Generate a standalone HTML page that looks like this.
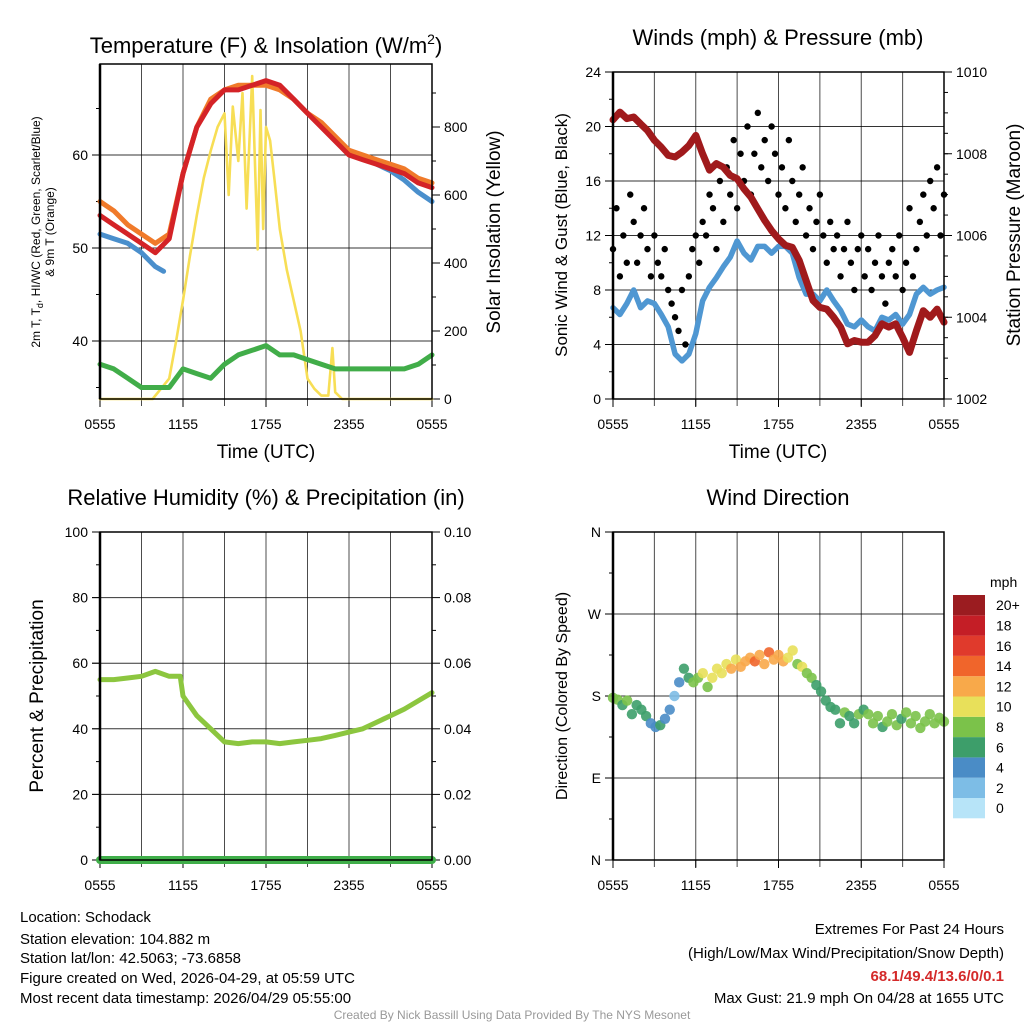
<!DOCTYPE html>
<html><head><meta charset="utf-8">
<style>
html,body{margin:0;padding:0;background:#fff;}
svg{display:block;font-family:"Liberation Sans",Arial,sans-serif;}
</style></head>
<body>
<svg id="fig" width="1024" height="1024" viewBox="0 0 1024 1024" xmlns="http://www.w3.org/2000/svg">
<rect width="1024" height="1024" fill="#fff"/>
<text x="266" y="53" font-size="22" text-anchor="middle">Temperature (F) &amp; Insolation (W/m<tspan dy="-9" font-size="14">2</tspan><tspan dy="9">)</tspan></text>
<text x="778" y="45" font-size="22" text-anchor="middle">Winds (mph) &amp; Pressure (mb)</text>
<text x="266" y="505" font-size="22" text-anchor="middle">Relative Humidity (%) &amp; Precipitation (in)</text>
<text x="778" y="505" font-size="22" text-anchor="middle">Wind Direction</text>
<text x="266" y="458" font-size="19" text-anchor="middle">Time (UTC)</text>
<text x="778" y="458" font-size="19" text-anchor="middle">Time (UTC)</text>
<g transform="translate(40,232) rotate(-90)">
<text x="0" y="0" font-size="12" text-anchor="middle">2m T, T<tspan dy="3" font-size="9">d</tspan><tspan dy="-3">, HI/WC (Red, Green, Scarlet/Blue)</tspan></text>
<text x="0" y="14" font-size="12" text-anchor="middle">&amp; 9m T (Orange)</text>
</g>
<text transform="translate(500,232) rotate(-90)" font-size="19" text-anchor="middle">Solar Insolation (Yellow)</text>
<text transform="translate(567,235) rotate(-90)" font-size="17" text-anchor="middle">Sonic Wind &amp; Gust (Blue, Black)</text>
<text transform="translate(1020,235) rotate(-90)" font-size="19" text-anchor="middle">Station Pressure (Maroon)</text>
<text transform="translate(43,696) rotate(-90)" font-size="19" text-anchor="middle">Percent &amp; Precipitation</text>
<text transform="translate(567,696) rotate(-90)" font-size="16" text-anchor="middle">Direction (Colored By Speed)</text>
<g font-size="15">
<text x="20" y="922">Location: Schodack</text>
<text x="20" y="944">Station elevation: 104.882 m</text>
<text x="20" y="963">Station lat/lon: 42.5063; -73.6858</text>
<text x="20" y="983">Figure created on Wed, 2026-04-29, at 05:59 UTC</text>
<text x="20" y="1003">Most recent data timestamp: 2026/04/29 05:55:00</text>
</g>
<g font-size="15" text-anchor="end">
<text x="1004" y="934">Extremes For Past 24 Hours</text>
<text x="1004" y="958">(High/Low/Max Wind/Precipitation/Snow Depth)</text>
<text x="1004" y="981" fill="#d42a2a" font-weight="bold">68.1/49.4/13.6/0/0.1</text>
<text x="1004" y="1003">Max Gust: 21.9 mph On 04/28 at 1655 UTC</text>
</g>
<text x="512" y="1019" font-size="12" fill="#999" text-anchor="middle">Created By Nick Bassill Using Data Provided By The NYS Mesonet</text>
<g id="plots"></g>
</svg>
<script>
// ---- data ----
const xTickLabels = ["0555","1155","1755","2355","0555"];
const tempHours = [0,1,2,3,4,5,6,7,8,9,10,11,12,13,14,15,16,17,18,19,20,21,22,23,24];
const temp2m = [53.5,52.5,51.5,50.5,49.5,51,58,63,65.5,67,67,67.5,68,67.5,66,64.5,63,61.5,60,59.5,59,58.5,58,57,56.5];
const temp9m = [55,54,52.5,51.5,50.5,51.5,58,63,66,67,67.5,67.5,67.5,67,66,64.5,63.5,62,60.5,60,59.5,59,58.5,57.5,57];
const dewpoint = [37.5,37,36,35,35,35,37,36.5,36,37.5,38.5,39,39.5,38.5,38.5,38,37.5,37,37,37,37,37,37,37.5,38.5];
const hiwcHours = [0,1,2,3,4,4.6,null,20,21,22,23,24];
const hiwc = [51.5,51,50.5,49.5,48,47.5,null,59,58.3,57.3,56,55];
const solarHours = [0,3.8,5,5.5,6,6.5,7,7.5,8,8.5,9,9.3,9.6,10,10.3,10.6,11,11.2,11.4,11.6,11.8,12,12.3,12.6,13,13.5,14,14.5,15,15.5,16,16.5,16.8,17,17.5,18,24];
const solar = [0,0,60,170,290,420,540,650,730,800,840,600,860,700,900,560,950,700,440,850,500,800,760,650,500,380,290,200,60,30,10,10,150,20,0,0,0];
const tempTicks = [40,50,60];
const solarTicks = [0,200,400,600,800];

const halfHours = [];
for (let i = 0; i <= 48; i++) halfHours.push(i/2);
const pressure = [1008.83,1009.02,1008.86,1008.9,1008.73,1008.57,1008.33,1008.16,1007.96,1007.92,1008.04,1008.2,1008.45,1008.0,1007.6,1007.76,1007.67,1007.47,1007.39,1007.14,1006.94,1006.65,1006.37,1006.12,1005.92,1005.76,1005.71,1005.39,1004.9,1004.41,1004.24,1004.2,1004.0,1003.76,1003.35,1003.43,1003.39,1003.39,1003.55,1003.84,1003.76,1003.84,1003.51,1003.14,1003.67,1004.16,1004.0,1004.2,1003.88];
const sonicWind = [6.7,6.2,7,8,6.7,7.2,7,6.2,5.3,3.3,2.8,3.3,4.8,7.2,8.2,8.9,9.7,10.4,11.6,10.7,10.2,11.2,11.2,10.7,11.2,11.2,10.7,8.9,7.7,7.7,7.2,8,7.2,6.5,5.5,5.3,5.8,5.3,5,6,5.8,6.2,5.5,6.2,7.7,8.2,7.7,8,8.2];
const gusts = [11,14,9,12,10,15,13,10,12,14,11,9,12,10,9,11,8,7,6,5,8,4,9,11,12,10,13,12,15,14,11,16,13,17,15,19,14,18,16,20,15,18,21,17,19,16,20,18,15,17,14,19,16,13,15,17,12,14,11,13,15,12,10,13,11,12,9,11,13,10,8,11,12,9,11,8,10,12,9,7,10,11,9,12,8,10,14,9,11,13,15,12,16,14,17,12,15];
const windTicks = [0,4,8,12,16,20,24];
const pressTicks = [1002,1004,1006,1008,1010];

const rhHours = [0,1,2,3,4,5,5.8,6,7,8,9,10,11,12,13,14,15,16,17,18,19,20,21,22,23,24];
const rh = [55,55,55.5,56,57.5,56,56,50,44,40,36,35.5,36,36,35.5,36,36.5,37,38,39,40,42,44,46,48.5,51];
const precip = [0,0];
const precipHours = [0,24];
const rhTicks = [0,20,40,60,80,100];
const precipTicks = ["0.00","0.02","0.04","0.06","0.08","0.10"];

const dirDegrees = [178,176,170,175,160,170,165,158,150,146,148,155,165,180,195,210,200,195,200,205,190,200,210,205,215,210,220,212,218,222,218,225,215,228,220,225,218,222,230,215,212,205,200,192,185,175,168,165,150,162,158,150,160,165,160,150,158,146,152,160,148,155,162,150,158,145,152,160,150,156,152];
const dirSpeed = [7,7,6,7,6,6,5,5,4,4,5,4,3,2,3,5,6,7,8,9,8,10,9,9,10,11,10,12,11,12,13,12,11,14,12,11,12,10,9,8,9,8,7,6,5,5,6,6,5,7,6,5,7,6,7,8,7,6,7,7,8,6,7,8,7,8,7,8,7,8,8];
const dirTicks = ["N","E","S","W","N"];
const speedLabels = ["0","2","4","6","8","10","12","14","16","18","20+"];
const speedColors = ["#b7e4f8","#7dbde6","#4a8cc6","#3d9e6a","#7bc24a","#e8e05a","#f8a94a","#f0652b","#e03a2c","#c41e26","#9b1c20"];

// ---- drawing ----
const NS = "http://www.w3.org/2000/svg";
const root = document.getElementById("plots");
function mk(tag, parent, attrs) {
  const e = document.createElementNS(NS, tag);
  for (const k in attrs) e.setAttribute(k, attrs[k]);
  parent.appendChild(e);
  return e;
}
function lin(d0, d1, r0, r1) { return v => r0 + (v - d0) * (r1 - r0) / (d1 - d0); }

function frame(p, name) {
  const g = mk("g", root, {});
  
  
  const x = lin(0, 24, p.x0, p.x1);
  for (let h = 3; h < 24; h += 3) {
    const gl = mk("line", g, {x1:x(h),x2:x(h),y1:p.y0,y2:p.y1+7,stroke:"#000","stroke-width":1,"stroke-opacity":0.7});
    
    
  }
  xTickLabels.forEach((lab, i) => {
    const h = i * 6;
    mk("line", g, {x1:x(h),x2:x(h),y1:p.y1,y2:p.y1+8,stroke:"#000","stroke-width":1});
    const t = mk("text", g, {x:x(h),y:p.y1+30,"font-size":14,"text-anchor":"middle"});
    t.textContent = lab;
    
    
  });
  return {g, x};
}
function border(g, p) {
  mk("rect", g, {x:p.x0,y:p.y0,width:p.x1-p.x0,height:p.y1-p.y0,fill:"none",stroke:"#000","stroke-width":1.5});
  mk("line", g, {x1:p.x0,x2:p.x0,y1:p.y0,y2:p.y1,stroke:"#000","stroke-width":2.5});
}
function hgrid(g, p, ys) {
  ys.forEach(y => mk("line", g, {x1:p.x0-8,x2:p.x1,y1:y,y2:y,stroke:"#000","stroke-width":1,"stroke-opacity":0.8}));
}
function ticksLeft(g, p, vals, y, labelFn, nm) {
  vals.forEach((v, i) => {
    mk("line", g, {x1:p.x0-8,x2:p.x0,y1:y(v),y2:y(v),stroke:"#000"});
    const t = mk("text", g, {x:p.x0-12,y:y(v)+5,"font-size":14,"text-anchor":"end"});
    t.textContent = labelFn(v, i);
    
    
  });
}
function ticksRight(g, p, vals, y, labelFn, nm) {
  vals.forEach((v, i) => {
    mk("line", g, {x1:p.x1,x2:p.x1+8,y1:y(v),y2:y(v),stroke:"#000"});
    const t = mk("text", g, {x:p.x1+12,y:y(v)+5,"font-size":14,"text-anchor":"start"});
    t.textContent = labelFn(v, i);
    
    
  });
}
function minorLeft(g, p, y, from, to, step) {
  for (let v = from; v <= to + 1e-9; v += step) mk("line", g, {x1:p.x0-4,x2:p.x0,y1:y(v),y2:y(v),stroke:"#000"});
}
function minorRight(g, p, y, from, to, step) {
  for (let v = from; v <= to + 1e-9; v += step) mk("line", g, {x1:p.x1,x2:p.x1+4,y1:y(v),y2:y(v),stroke:"#000"});
}
function pathFrom(xs, ys, x, y) {
  let d = "", pen = false;
  for (let i = 0; i < xs.length; i++) {
    if (xs[i] === null || ys[i] === null) { pen = false; continue; }
    d += (pen ? "L" : "M") + x(xs[i]).toFixed(1) + "," + y(ys[i]).toFixed(1);
    pen = true;
  }
  return d;
}
function series(g, xs, ys, x, y, color, w, name) {
  const e = mk("path", g, {d:pathFrom(xs, ys, x, y),fill:"none",stroke:color,"stroke-width":w,"stroke-linejoin":"round","stroke-linecap":"round"});
  
  
  return e;
}

// Panel 1: temperature
(function(){
  const p = {x0:100,x1:432,y0:64,y1:399};
  const {g, x} = frame(p, "temperature-panel");
  const y = lin(40, 60, 341, 155);
  const ys = lin(0, 800, 399, 127);
  hgrid(g, p, tempTicks.map(y));
  ticksLeft(g, p, tempTicks, y, v => v, "temperature-tick-label");
  minorLeft(g, p, y, 35, 65, 5);
  ticksRight(g, p, solarTicks, ys, v => v, "insolation-tick-label");
  minorRight(g, p, ys, 100, 900, 200);
  series(g, solarHours, solar, x, ys, "#f7de55", 2.6, "insolation-line");
  series(g, tempHours, dewpoint, x, y, "#41ad49", 5, "dewpoint-line");
  series(g, hiwcHours, hiwc, x, y, "#4a8fcc", 5, "heat-index-wind-chill-line");
  series(g, tempHours, temp9m, x, y, "#f07a2a", 5, "temperature-9m-line");
  series(g, tempHours, temp2m, x, y, "#d42327", 5, "temperature-2m-line");
  border(g, p);
})();

// Panel 2: winds & pressure
(function(){
  const p = {x0:613,x1:944,y0:72,y1:399};
  const {g, x} = frame(p, "winds-panel");
  const y = lin(0, 24, 399, 72);
  const yp = lin(1002, 1010, 399, 72);
  hgrid(g, p, windTicks.slice(1, -1).map(y));
  ticksLeft(g, p, windTicks, y, v => v, "wind-tick-label");
  minorLeft(g, p, y, 2, 22, 4);
  ticksRight(g, p, pressTicks, yp, v => v, "pressure-tick-label");
  minorRight(g, p, yp, 1002.5, 1009.5, 0.5);
  series(g, halfHours, sonicWind, x, y, "#4f97d2", 5.5, "sonic-wind-line");
  const step = 24 / (gusts.length - 1);
  gusts.forEach((v, i) => {
    const c = mk("circle", g, {cx:x(i*step),cy:y(v),r:3.2,fill:"#000"});
    
    
  });
  series(g, halfHours, pressure, x, yp, "#a01a1c", 7, "pressure-line");
  border(g, p);
})();

// Panel 3: RH & precip
(function(){
  const p = {x0:100,x1:432,y0:532,y1:860};
  const {g, x} = frame(p, "humidity-panel");
  const y = lin(0, 100, 860, 532);
  hgrid(g, p, rhTicks.slice(1, -1).map(y));
  ticksLeft(g, p, rhTicks, y, v => v, "humidity-tick-label");
  minorLeft(g, p, y, 10, 90, 20);
  ticksRight(g, p, rhTicks, y, (v, i) => precipTicks[i], "precipitation-tick-label");
  minorRight(g, p, y, 10, 90, 20);
  series(g, rhHours, rh, x, y, "#8cc63f", 5, "relative-humidity-line");
  series(g, precipHours, precip, x, y, "#3fae49", 8, "precipitation-line");
  border(g, p);
})();

// Panel 4: wind direction
(function(){
  const p = {x0:613,x1:944,y0:532,y1:860};
  const {g, x} = frame(p, "wind-direction-panel");
  const y = lin(0, 360, 860, 532);
  hgrid(g, p, [90,180,270].map(y));
  ticksLeft(g, p, [0,90,180,270,360], y, (v, i) => dirTicks[i], "direction-tick-label");
  minorLeft(g, p, y, 45, 315, 90);
  const step = 24 / (dirDegrees.length - 1);
  dirDegrees.forEach((d, i) => {
    const ci = Math.min(10, Math.max(0, Math.round(dirSpeed[i] / 2)));
    const c = mk("circle", g, {cx:x(i*step),cy:y(d),r:5.2,fill:speedColors[ci],"fill-opacity":0.9});
    
    
  });
  border(g, p);
  const cb = mk("g", root, {});
  
  
  const unit = mk("text", cb, {x:990,y:587,"font-size":14});
  unit.textContent = "mph";
  const h = 20.3;
  speedLabels.forEach((lab, i) => {
    const top = 798 - i * h;
    const r = mk("rect", cb, {x:953,y:top,width:32,height:h,fill:speedColors[i]});
    
    
    const t = mk("text", cb, {x:996,y:top+h/2+5,"font-size":14});
    t.textContent = lab;
    
    
  });
})();
</script>
</body></html>
